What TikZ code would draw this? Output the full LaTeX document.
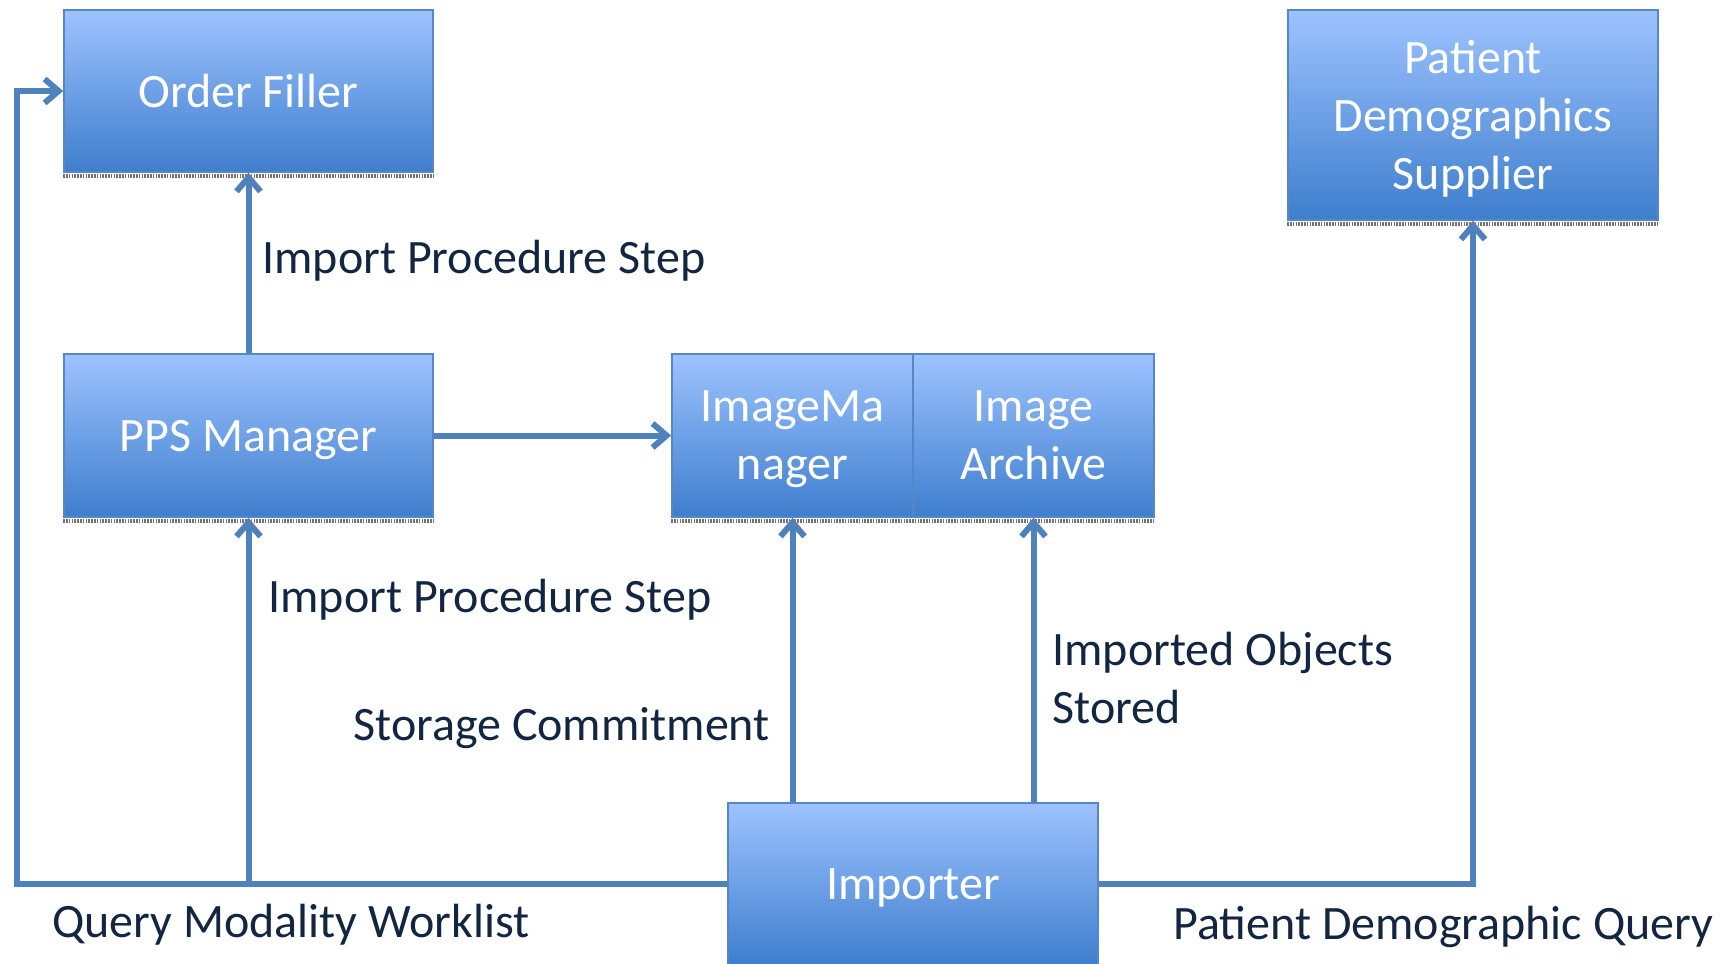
\documentclass[tikz,border=0pt]{standalone}
\usepackage{fontspec}
\setmainfont{Carlito}
\usetikzlibrary{arrows.meta}
\definecolor{boxtop}{RGB}{157,195,255}
\definecolor{boxbot}{RGB}{62,126,205}
\definecolor{boxline}{RGB}{84,134,200}
\definecolor{conncol}{RGB}{79,129,189}
\definecolor{labcol}{RGB}{18,38,66}
\tikzset{
  blockbox/.style={draw=boxline, line width=0.8pt, top color=boxtop, bottom color=boxbot,
    inner sep=0pt, text=white, align=center, text depth=0pt, font=\fontsize{24}{29}\selectfont},
  conn/.style={draw=conncol, line width=3pt, line join=miter,
    -{Straight Barb[length=7pt,width=12pt]}},
  lab/.style={anchor=base west, inner sep=0pt, text=labcol, font=\fontsize{24}{29}\selectfont, align=left},
  shadowline/.style={draw=black!55, line width=2pt, dash pattern=on 0.8pt off 0.6pt}
}
\begin{document}
\begin{tikzpicture}[x=0.5pt,y=-0.5pt]
\useasboundingbox (0,0) rectangle (1731,964);
% boxes
\node[blockbox, minimum width=184.5pt, minimum height=81pt] (of) at (248.5,91) {Order Filler};
\node[blockbox, minimum width=184.5pt, minimum height=81.5pt] (pps) at (248.5,435.5) {PPS Manager};
\node[blockbox, minimum width=120.5pt, minimum height=81.5pt] (im) at (792.5,435.5) {ImageMa\\nager};
\node[blockbox, minimum width=120.5pt, minimum height=81.5pt] (ia) at (1033.5,435.5) {Image\\Archive};
\node[blockbox, minimum width=185pt, minimum height=81pt] (imp) at (913,884) {Importer};
\node[blockbox, minimum width=185pt, minimum height=105pt] (pds) at (1473,115) {Patient\\Demographics\\Supplier};
% shadows under boxes
\draw[shadowline] ([yshift=-1.4pt]of.south west) -- ([yshift=-1.4pt]of.south east);
\draw[shadowline] ([yshift=-1.4pt]pps.south west) -- ([yshift=-1.4pt]pps.south east);
\draw[shadowline] ([yshift=-1.4pt]im.south west) -- ([yshift=-1.4pt]ia.south east);
\draw[shadowline] ([yshift=-1.4pt]pds.south west) -- ([yshift=-1.4pt]pds.south east);
% connectors
\coordinate (bl) at (17,884);
\draw[conn] (imp.west) -- (bl) |- (of.west);
\draw[conn] (pps.south |- imp.west) -- (pps.south);
\draw[conn] (pps.north) -- (of.south);
\draw[conn] (pps.east) -- (im.west);
\draw[conn] (imp.north -| im.south) -- (im.south);
\draw[conn] (imp.north -| ia.south) -- (ia.south);
\draw[conn] (imp.east) -| (pds.south);
% labels
\node[lab] (l1) at (262,273) {Import Procedure Step};
\node[lab] (l2) at (268,612) {Import Procedure Step};
\node[lab] (l3) at (353,740) {Storage Commitment};
\node[lab] (l4) at (1052,665) {Imported Objects};
\node[lab] (l5) at (1052,723) {Stored};
\node[lab] (l6) at (52,937) {Query Modality Worklist};
\node[lab] (l7) at (1173,939) {Patient Demographic Query};
\end{tikzpicture}
\end{document}
